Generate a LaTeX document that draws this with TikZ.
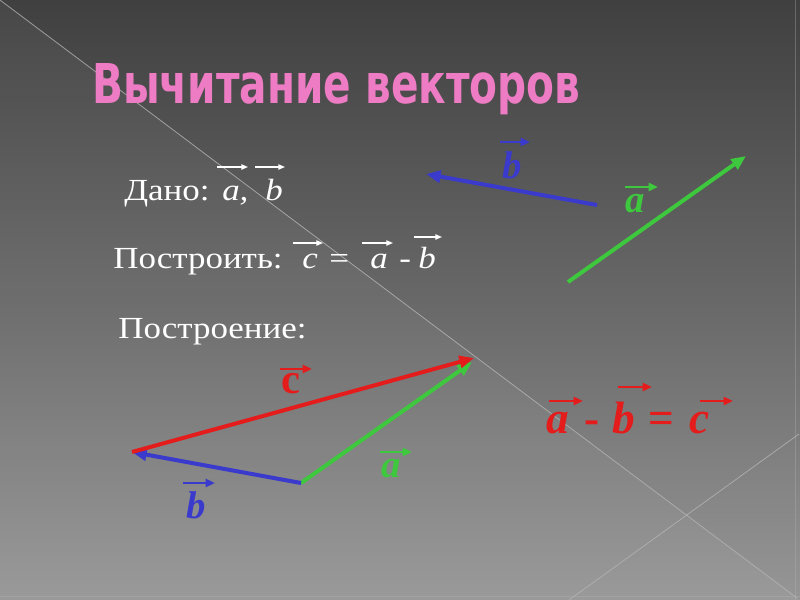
\documentclass[tikz,border=0pt]{standalone}
\usepackage{fontspec}
\setmainfont{Liberation Serif}
\newfontfamily\titlefont{DejaVu Sans}
\usetikzlibrary{arrows.meta}
\newcommand\stretchtxt[1]{\scalebox{1.14}[1]{#1}}
\definecolor{bgtop}{RGB}{64,64,64}
\definecolor{bgmid}{RGB}{104,104,104}
\definecolor{bgbot}{RGB}{150,150,150}
\definecolor{vblue}{RGB}{58,58,205}
\definecolor{vgreen}{RGB}{62,200,62}
\definecolor{vred}{RGB}{228,28,28}
\definecolor{tpink}{RGB}{238,124,196}
\definecolor{ruleg}{RGB}{180,180,180}
\begin{document}
\begin{tikzpicture}[x=0.75pt,y=-0.75pt,
  vec/.style={line width=3pt,-{Triangle[length=11pt,width=9pt]}},
  ovw/.style={white,line width=1pt,-{Triangle[length=5pt,width=4pt]}},
  ovc/.style={line width=2pt,-{Triangle[length=7pt,width=6pt]}},
  txt/.style={white,inner sep=0pt,anchor=base west,font=\fontsize{23pt}{28pt}\selectfont},
  itx/.style={txt,font=\fontsize{23pt}{28pt}\selectfont\itshape},
  lab/.style={inner sep=0pt,anchor=base west,font=\fontsize{29pt}{33pt}\selectfont\bfseries\itshape},
  labu/.style={inner sep=0pt,anchor=base west,font=\fontsize{32pt}{36pt}\selectfont\bfseries},
  eqi/.style={vred,inner sep=0pt,anchor=base west,font=\fontsize{34pt}{38pt}\selectfont\bfseries\itshape},
  equ/.style={vred,inner sep=0pt,anchor=base west,font=\fontsize{34pt}{38pt}\selectfont\bfseries},
]
% background
\useasboundingbox (0,0) rectangle (800,600);
\shade[top color=bgtop, bottom color=bgbot, middle color=bgmid] (0,0) rectangle (800,600);
\fill[white,opacity=0.04] (0,0) -- (0,600) -- (800,600) -- cycle;
\draw[ruleg,line width=0.6pt,opacity=0.8] (0,0) -- (797,598);
\draw[ruleg,line width=0.6pt,opacity=0.8] (799,434) -- (569,600);
\draw[ruleg,line width=0.5pt,opacity=0.35] (795,0) -- (795,600);
\draw[ruleg,line width=0.5pt,opacity=0.35] (0,596) -- (800,596);

% title
\node[anchor=base west,inner sep=0pt,text=tpink] (title) at (92,103)
  {\resizebox{366pt}{30pt}{\titlefont\bfseries Вычитание векторов}};

% line 1
\node[txt] (dano) at (124,200) {\stretchtxt{Дано:}};
\node[itx] (da) at (222,200) {\stretchtxt{a,}};
\node[itx] (db) at (265,200) {\stretchtxt{b}};
\draw[ovw] ([shift={(-5,-33)}]da.base west) -- ([shift={(26,-33)}]da.base west);
\draw[ovw] ([shift={(-10,-33)}]db.base west) -- ([shift={(20,-33)}]db.base west);

% line 2
\node[txt] (postr) at (113,268) {\stretchtxt{Построить:}};
\node[itx] (pc) at (302,268) {\stretchtxt{c}};
\node[txt] (peq) at (329,268) {\stretchtxt{=}};
\node[itx] (pa) at (370,268) {\stretchtxt{a}};
\node[txt] (pm) at (399,268) {\stretchtxt{-}};
\node[itx] (pb) at (418,268) {\stretchtxt{b}};
\draw[ovw] ([shift={(-9,-25)}]pc.base west) -- ([shift={(21,-25)}]pc.base west);
\draw[ovw] ([shift={(-8,-25)}]pa.base west) -- ([shift={(23,-25)}]pa.base west);
\draw[ovw] ([shift={(-4,-31)}]pb.base west) -- ([shift={(24,-31)}]pb.base west);

% line 3
\node[txt] (postrn) at (118,338) {\stretchtxt{Построение:}};

% given vectors
\coordinate (bt1) at (597,205);
\coordinate (bt2) at (426,174);
\coordinate (at1) at (568,282);
\coordinate (at2) at (746,156);
\draw[vec,vblue] (bt1) -- (bt2);
\draw[vec,vgreen] (at1) -- (at2);
\node[lab,vblue] (lbt) at (502,178) {b};
\draw[ovc,vblue] ([shift={(-2,-36)}]lbt.base west) -- ([shift={(28,-36)}]lbt.base west);
\node[lab,vgreen] (lat) at (625,212) {a};
\draw[ovc,vgreen] ([shift={(0,-25)}]lat.base west) -- ([shift={(33,-25)}]lat.base west);

% construction
\coordinate (O) at (301,483);
\coordinate (Bp) at (132,452);
\coordinate (Ap) at (474,358);
\draw[vec,vgreen] (O) -- ([shift={(-2,4)}]Ap);
\draw[vec,vblue] (O) -- (Bp);
\draw[vec,vred] (Bp) -- (Ap);
\node[labu,vred] (lc) at (281,393) {c};
\draw[ovc,vred] ([shift={(-1,-24)}]lc.base west) -- ([shift={(31,-24)}]lc.base west);
\node[lab,vgreen] (lab) at (381,477) {a};
\draw[ovc,vgreen] ([shift={(-1,-25)}]lab.base west) -- ([shift={(31,-25)}]lab.base west);
\node[lab,vblue] (lbb) at (186,518) {b};
\draw[ovc,vblue] ([shift={(-3,-35)}]lbb.base west) -- ([shift={(29,-35)}]lbb.base west);

% equation
\node[eqi] (ea) at (546,433) {a};
\node[equ] (em) at (584,433) {-};
\node[eqi] (eb) at (612,433) {b};
\node[equ] (eeq) at (648,433) {=};
\node[eqi] (ec) at (689,433) {c};
\draw[ovc,vred] ([shift={(3,-32)}]ea.base west) -- ([shift={(37,-32)}]ea.base west);
\draw[ovc,vred] ([shift={(6,-46)}]eb.base west) -- ([shift={(40,-46)}]eb.base west);
\draw[ovc,vred] ([shift={(11,-32)}]ec.base west) -- ([shift={(44,-32)}]ec.base west);
\end{tikzpicture}
\end{document}
